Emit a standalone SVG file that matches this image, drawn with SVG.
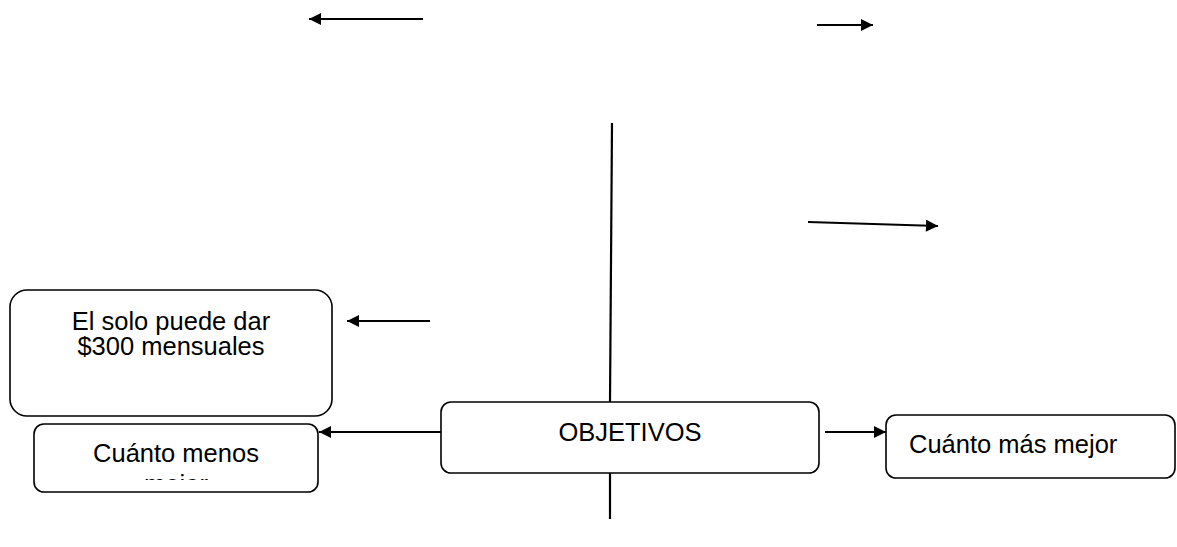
<svg xmlns="http://www.w3.org/2000/svg" width="1177" height="547" viewBox="0 0 1177 547">
<style>
.box{fill:#fff;stroke:#000;stroke-width:1.6}
.ln{fill:none;stroke:#000;stroke-width:2.2}
.t{font-family:"Liberation Sans",Arial,sans-serif;font-size:25.5px;fill:#000}
</style>
<defs>
<marker id="ah" viewBox="0 0 10 10" refX="10" refY="5" markerWidth="14" markerHeight="12" markerUnits="userSpaceOnUse" orient="auto">
<path d="M0,0 L10,5 L0,10 z" fill="#000"/>
</marker>
<clipPath id="clipMenos"><rect x="34" y="424" width="284" height="56"/></clipPath>
</defs>
<rect width="1177" height="547" fill="#fff"/>
<g id="connectors">
<line class="ln" x1="423" y1="19" x2="309" y2="19" marker-end="url(#ah)"/>
<line class="ln" x1="817" y1="25" x2="873" y2="25" marker-end="url(#ah)"/>
<line class="ln" x1="808" y1="222" x2="938" y2="226" marker-end="url(#ah)"/>
<line class="ln" x1="430" y1="321" x2="347" y2="321" marker-end="url(#ah)"/>
<line class="ln" x1="612" y1="123" x2="610" y2="402"/>
<line class="ln" x1="610" y1="473" x2="610" y2="519"/>
<line class="ln" x1="441" y1="432" x2="319" y2="432" marker-end="url(#ah)"/>
<line class="ln" x1="825" y1="432" x2="886" y2="432" marker-end="url(#ah)"/>
</g>
<g id="node-solo">
<rect class="box" x="10" y="290" width="322" height="126" rx="17"/>
<text class="t" x="171" y="330" text-anchor="middle">El solo puede dar</text>
<text class="t" x="171" y="355" text-anchor="middle">$300 mensuales</text>
</g>
<g id="node-menos">
<rect class="box" x="34" y="424" width="284" height="68" rx="10"/>
<text class="t" x="176" y="462" text-anchor="middle">Cuánto menos</text>
<text class="t" x="176" y="493" text-anchor="middle" clip-path="url(#clipMenos)">mejor</text>
</g>
<g id="node-objetivos">
<rect class="box" x="441" y="402" width="378" height="71" rx="10"/>
<text class="t" x="630" y="441" text-anchor="middle">OBJETIVOS</text>
</g>
<g id="node-mas">
<rect class="box" x="886" y="415" width="289" height="63" rx="10"/>
<text class="t" x="909" y="453">Cuánto más mejor</text>
</g>
</svg>
